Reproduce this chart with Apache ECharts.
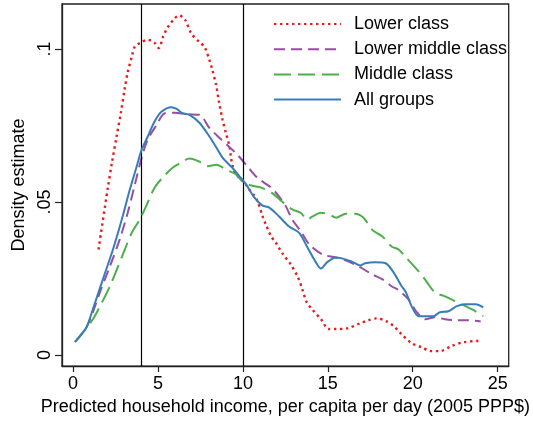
<!DOCTYPE html>
<html>
<head>
<meta charset="utf-8">
<script src="https://cdn.jsdelivr.net/npm/echarts@6/dist/echarts.min.js"></script>
<style>
html,body{margin:0;padding:0;background:#fff;}
#c{width:533px;height:421px;}
</style>
</head>
<body>
<div id="c"></div>
<script>
// ---- data ----
var seriesNames = ['Lower class', 'Lower middle class', 'Middle class', 'All groups'];

var lowerX = [1.5, 2.05, 2.29, 2.56, 2.81, 3.05, 3.22, 3.46, 3.63, 4.04, 4.4, 4.8, 5.05, 5.3, 5.57, 5.98, 6.25, 6.6, 6.97, 7.44, 7.74, 8.03, 8.2, 8.42, 8.6, 8.8, 9.0, 9.2, 9.3, 9.4, 9.54, 9.79, 10.08, 10.38, 10.63, 10.86, 11.15, 11.35, 11.65, 11.94, 12.37, 12.82, 13.25, 13.5, 13.76, 14.07, 14.6, 15.06, 15.47, 16.2, 16.9, 17.4, 17.88, 18.46, 18.87, 19.35, 19.93, 20.5, 21.1, 21.6, 22.3, 23.0, 23.86, 24.0];
var lowerY = [0.0345, 0.0547, 0.0629, 0.0713, 0.079, 0.0873, 0.0925, 0.0974, 0.1007, 0.1023, 0.103, 0.102, 0.1003, 0.104, 0.107, 0.110, 0.111, 0.1095, 0.105, 0.1023, 0.1007, 0.0964, 0.0932, 0.0883, 0.0825, 0.077, 0.0725, 0.0685, 0.0645, 0.0617, 0.0595, 0.0579, 0.0563, 0.0541, 0.0524, 0.0503, 0.0455, 0.0427, 0.0389, 0.0367, 0.0329, 0.0296, 0.0253, 0.0215, 0.0172, 0.015, 0.0117, 0.0085, 0.0085, 0.0088, 0.0104, 0.0114, 0.012, 0.011, 0.0095, 0.0068, 0.0039, 0.0026, 0.0013, 0.0013, 0.003, 0.0042, 0.0046, 0.0046];

var lowMidX = [0.12, 0.8, 1.2, 1.58, 2.17, 2.75, 3.22, 3.63, 4.04, 4.4, 4.92, 5.4, 6.0, 6.68, 7.44, 8.03, 8.73, 9.2, 9.67, 10.26, 10.84, 11.66, 12.13, 12.54, 12.9, 13.4, 13.9, 14.67, 15.47, 16.2, 16.9, 17.6, 18.2, 18.75, 19.17, 19.75, 20.2, 20.75, 21.3, 21.9, 22.57, 23.27, 24.0];
var lowMidY = [0.0043, 0.0092, 0.0145, 0.0205, 0.029, 0.0378, 0.0465, 0.0555, 0.0645, 0.0704, 0.0752, 0.079, 0.0792, 0.0787, 0.0785, 0.0742, 0.0704, 0.068, 0.0655, 0.0617, 0.058, 0.0547, 0.0518, 0.0485, 0.0443, 0.0405, 0.0362, 0.0329, 0.0319, 0.0306, 0.0287, 0.0264, 0.0248, 0.0225, 0.0212, 0.0182, 0.0143, 0.0117, 0.0124, 0.0117, 0.0114, 0.0114, 0.011];

var middleX = [0.12, 0.6, 1.17, 1.7, 2.17, 2.58, 3.05, 3.46, 3.93, 4.33, 4.8, 5.28, 5.86, 6.45, 6.86, 7.44, 7.9, 8.44, 9.0, 9.6, 9.97, 10.5, 11.08, 11.7, 12.3, 12.9, 13.4, 13.8, 14.1, 14.6, 15.06, 15.5, 16.06, 16.6, 17.1, 17.6, 18.2, 18.75, 19.17, 19.6, 20.34, 20.8, 21.3, 21.9, 22.5, 23.1, 23.7, 24.15];
var middleY = [0.0043, 0.0075, 0.0117, 0.0172, 0.0225, 0.028, 0.0345, 0.04, 0.0443, 0.049, 0.0547, 0.058, 0.0612, 0.0632, 0.0642, 0.0632, 0.0617, 0.0622, 0.0606, 0.059, 0.0567, 0.0554, 0.0547, 0.053, 0.0502, 0.0476, 0.0465, 0.0443, 0.0453, 0.0465, 0.046, 0.0449, 0.0462, 0.0462, 0.0449, 0.041, 0.0388, 0.0355, 0.0345, 0.0319, 0.0274, 0.0241, 0.0205, 0.0192, 0.0176, 0.016, 0.0143, 0.0127];

var allX = [0.12, 0.5, 0.82, 1.17, 1.76, 2.35, 2.87, 3.34, 3.75, 4.04, 4.4, 4.8, 5.2, 5.8, 6.1, 6.45, 6.86, 7.44, 8.03, 8.44, 8.8, 9.38, 9.8, 10.2, 10.67, 11.14, 11.55, 12.13, 12.72, 13.3, 13.77, 14.3, 14.6, 14.95, 15.47, 15.83, 16.4, 16.9, 17.2, 17.8, 18.4, 18.87, 19.35, 19.6, 19.93, 20.34, 20.75, 21.2, 21.6, 22.1, 22.6, 23.1, 23.7, 24.15];
var allY = [0.0043, 0.0068, 0.0094, 0.015, 0.0248, 0.0345, 0.0443, 0.054, 0.0617, 0.0671, 0.0714, 0.0763, 0.0795, 0.081, 0.0804, 0.079, 0.0785, 0.0759, 0.0714, 0.0678, 0.0645, 0.0612, 0.0584, 0.0557, 0.0515, 0.0489, 0.0482, 0.0453, 0.042, 0.04, 0.0355, 0.0303, 0.0283, 0.0303, 0.0319, 0.0316, 0.0306, 0.0293, 0.03, 0.0303, 0.03, 0.027, 0.0225, 0.0205, 0.016, 0.0127, 0.0127, 0.0127, 0.014, 0.0143, 0.016, 0.0166, 0.0166, 0.0156];

var xTicks = [0, 5, 10, 15, 20, 25];
var yTicks = [0, 0.05, 0.1];
var yTickLabels = ['0', '.05', '.1'];
var refLines = [4, 10];

function pairs(xs, ys) { return xs.map(function (x, i) { return [x, ys[i]]; }); }

var FONT = '"Liberation Sans", Arial, sans-serif';
var colors = ['#e8191c', '#984ea3', '#4daf4a', '#377eb8'];
var widths = [2.4, 2, 2, 2];
var dashes = [[2.4, 3.6], [11, 6], [17, 7], 'solid'];
var datasets = [pairs(lowerX, lowerY), pairs(lowMidX, lowMidY), pairs(middleX, middleY), pairs(allX, allY)];

var series = seriesNames.map(function (name, i) {
  var s = {
    name: name,
    type: 'line',
    data: datasets[i],
    symbol: 'none',
    smooth: 0.3,
    lineStyle: { color: colors[i], width: widths[i], type: dashes[i], cap: 'butt' },
    itemStyle: { color: colors[i] },
    z: 3 + i
  };
  if (i === 3) {
    s.markLine = {
      silent: true,
      symbol: ['none', 'none'],
      label: { show: false },
      lineStyle: { color: '#000', type: 'solid', width: 1.2 },
      data: refLines.map(function (v) { return { xAxis: v }; })
    };
  }
  return s;
});

var chart = echarts.init(document.getElementById('c'), null, { renderer: 'canvas' });
chart.setOption({
  animation: false,
  backgroundColor: '#fff',
  textStyle: { fontFamily: FONT },
  grid: { left: 62, right: 22, top: 4, bottom: 54, show: true, borderColor: '#222', borderWidth: 1.3, backgroundColor: 'transparent' },
  legend: {
    orient: 'vertical',
    left: 273,
    top: 15,
    padding: 0,
    itemWidth: 67,
    itemHeight: 14,
    itemGap: 7.2,
    itemStyle: { opacity: 0, borderWidth: 0 },
    textStyle: { fontFamily: FONT, fontSize: 18, color: '#000', padding: [0, 0, 0, 8] },
    data: seriesNames
  },
  xAxis: {
    type: 'value',
    min: -0.65,
    max: 25.65,
    name: 'Predicted household income, per capita per day (2005 PPP$)',
    nameLocation: 'middle',
    nameGap: 30,
    nameTextStyle: { fontFamily: FONT, fontSize: 18, color: '#000' },
    splitLine: { show: false },
    axisLine: { show: true, onZero: false, lineStyle: { color: '#222', width: 1.3 } },
    axisTick: { show: true, inside: false, length: 6, customValues: xTicks, lineStyle: { color: '#222', width: 1.2 } },
    axisLabel: { customValues: xTicks, fontFamily: FONT, fontSize: 18, color: '#000', margin: 9 }
  },
  yAxis: {
    type: 'value',
    min: -0.0036,
    max: 0.1147,
    name: 'Density estimate',
    nameLocation: 'middle',
    nameGap: 30,
    nameRotate: 90,
    nameTextStyle: { fontFamily: FONT, fontSize: 18, color: '#000' },
    splitLine: { show: false },
    axisLine: { show: true, onZero: false, lineStyle: { color: '#222', width: 1.3 } },
    axisTick: { show: true, inside: false, length: 7, customValues: yTicks, lineStyle: { color: '#222', width: 1.2 } },
    axisLabel: {
      customValues: yTicks,
      rotate: 90,
      fontFamily: FONT, fontSize: 18, color: '#000', margin: 8,
      formatter: function (v) {
        for (var i = 0; i < yTicks.length; i++) { if (Math.abs(v - yTicks[i]) < 1e-9) return yTickLabels[i]; }
        return '';
      }
    }
  },
  series: series
});
</script>
</body>
</html>
